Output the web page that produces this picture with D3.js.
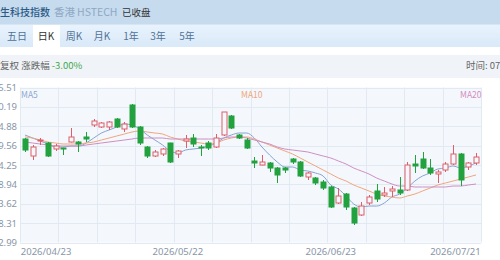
<!DOCTYPE html>
<html>
<head>
<meta charset="utf-8">
<script src="https://cdn.jsdelivr.net/npm/d3@7"></script>
<style>
  html, body { margin: 0; padding: 0; background: #fff; }
  svg { display: block; font-family: "Noto Sans CJK SC", "Noto Sans", sans-serif; }
</style>
</head>
<body>
<svg id="chart" width="500" height="260"></svg>
<script>
// trading days shown
const dates = [
  "2026/04/23","2026/04/24","2026/04/27","2026/04/28","2026/04/29","2026/04/30",
  "2026/05/04","2026/05/05","2026/05/06","2026/05/07","2026/05/08","2026/05/11",
  "2026/05/12","2026/05/13","2026/05/14","2026/05/15","2026/05/18","2026/05/19",
  "2026/05/20","2026/05/21","2026/05/22","2026/05/26","2026/05/27","2026/05/28",
  "2026/05/29","2026/06/01","2026/06/02","2026/06/03","2026/06/04","2026/06/05",
  "2026/06/08","2026/06/09","2026/06/10","2026/06/11","2026/06/12","2026/06/15",
  "2026/06/16","2026/06/17","2026/06/18","2026/06/22","2026/06/23","2026/06/24",
  "2026/06/25","2026/06/26","2026/06/29","2026/06/30","2026/07/02","2026/07/03",
  "2026/07/06","2026/07/07","2026/07/08","2026/07/09","2026/07/10","2026/07/13",
  "2026/07/14","2026/07/15","2026/07/16","2026/07/17","2026/07/20","2026/07/21"
];

const open = [
  5665.5,5573.1,5654.7,5643.8,5611.2,5616.6,5649.2,5649.2,5676.4,5741.6,
  5730.8,5730.8,5774.2,5719.9,5850.4,5730.8,5622.0,5573.1,5584.0,5643.8,
  5584.0,5654.7,5671.0,5622.0,5643.8,5622.0,5687.3,5790.6,5687.3,5660.1,
  5545.9,5524.2,5535.1,5507.9,5507.9,5556.8,5540.5,5459.0,5453.5,5431.8,
  5404.6,5317.7,5366.6,5290.5,5252.4,5317.7,5382.9,5361.1,5382.9,5388.3,
  5388.3,5529.6,5556.8,5507.9,5475.3,5497.0,5529.6,5584.0,5513.3,5535.1
];
const high = [
  5671.0,5632.9,5671.0,5649.2,5638.4,5618.0,5725.3,5654.7,5703.6,5774.2,
  5757.9,5763.4,5779.7,5757.9,5855.8,5736.2,5627.5,5605.7,5616.6,5645.0,
  5605.7,5687.3,5692.7,5632.9,5654.7,5692.7,5812.3,5796.0,5692.7,5671.0,
  5567.7,5578.6,5540.5,5513.3,5513.3,5562.3,5545.9,5486.2,5459.0,5442.7,
  5410.1,5399.2,5372.0,5295.9,5323.1,5361.1,5420.9,5404.6,5410.1,5459.0,
  5540.5,5578.6,5594.9,5556.8,5497.0,5540.5,5632.9,5589.4,5540.5,5589.4
];
const low = [
  5594.9,5551.4,5632.9,5567.7,5600.3,5578.6,5647.0,5594.9,5649.2,5730.8,
  5725.3,5714.5,5725.3,5703.6,5725.3,5632.9,5562.3,5567.7,5573.1,5535.1,
  5562.3,5616.6,5622.0,5573.1,5605.7,5616.6,5681.8,5719.9,5665.5,5611.2,
  5507.9,5522.0,5486.2,5426.4,5480.7,5529.6,5459.0,5442.7,5415.5,5388.3,
  5290.5,5312.2,5279.6,5198.1,5247.0,5306.8,5323.1,5350.3,5350.3,5361.1,
  5382.9,5480.7,5502.5,5469.9,5426.4,5486.2,5524.2,5410.1,5497.0,5524.2
];
const close = [
  5605.7,5622.0,5660.1,5573.1,5627.5,5611.2,5676.4,5638.4,5665.5,5763.4,
  5752.5,5757.9,5730.8,5747.1,5730.8,5643.8,5573.1,5594.9,5611.2,5540.5,
  5600.3,5665.5,5638.4,5616.6,5616.6,5671.0,5812.3,5725.3,5671.0,5616.6,
  5535.1,5540.5,5507.9,5469.9,5497.0,5540.5,5464.4,5480.7,5426.4,5399.2,
  5295.9,5355.7,5295.9,5208.9,5301.3,5350.3,5339.4,5372.0,5393.8,5372.0,
  5524.2,5518.8,5507.9,5480.7,5486.2,5529.6,5584.0,5442.7,5535.1,5567.7
];

const ma5 = [
  5687.3,5671.0,5654.7,5638.4,5622.0,5622.0,5627.5,5627.5,5643.8,5671.0,
  5698.1,5714.5,5730.8,5747.1,5741.6,5719.9,5687.3,5660.1,5632.9,5600.3,
  5589.4,5605.7,5611.2,5616.6,5627.5,5643.8,5671.0,5687.3,5698.1,5698.1,
  5671.0,5622.0,5578.6,5540.5,5513.3,5513.3,5497.0,5491.6,5480.7,5464.4,
  5415.5,5393.8,5355.7,5312.2,5295.9,5301.3,5301.3,5317.7,5350.3,5366.6,
  5399.2,5437.2,5464.4,5480.7,5502.5,5507.9,5518.8,5507.9,5518.8,5535.1
];
const ma10 = [
  5676.4,5671.0,5660.1,5649.2,5643.8,5638.4,5638.4,5638.4,5643.8,5649.2,
  5660.1,5671.0,5681.8,5692.7,5703.6,5709.0,5703.6,5698.1,5692.7,5676.4,
  5665.5,5654.7,5649.2,5643.8,5638.4,5643.8,5660.1,5671.0,5676.4,5676.4,
  5665.5,5649.2,5632.9,5616.6,5600.3,5584.0,5562.3,5540.5,5518.8,5497.0,
  5475.3,5453.5,5437.2,5415.5,5399.2,5382.9,5366.6,5355.7,5350.3,5344.8,
  5355.7,5366.6,5382.9,5399.2,5415.5,5426.4,5437.2,5448.1,5459.0,5469.9
];
const ma20 = [
  5649.2,5643.8,5638.4,5632.9,5627.5,5627.5,5627.5,5627.5,5632.9,5638.4,
  5643.8,5649.2,5654.7,5660.1,5665.5,5671.0,5671.0,5671.0,5671.0,5665.5,
  5665.5,5665.5,5665.5,5665.5,5665.5,5665.5,5671.0,5676.4,5676.4,5671.0,
  5660.1,5649.2,5638.4,5622.0,5611.2,5605.7,5600.3,5594.9,5584.0,5573.1,
  5562.3,5545.9,5529.6,5507.9,5491.6,5475.3,5453.5,5437.2,5420.9,5410.1,
  5410.1,5404.6,5404.6,5404.6,5404.6,5404.6,5410.1,5410.1,5415.5,5420.9
];

const yTicks = [5102.99,5208.31,5313.62,5418.94,5524.25,5629.56,5734.88,5840.19,5945.51];
const xTickIdx = [0, 20, 40, 59];
const tabs = ["五日","日K","周K","月K","1年","3年","5年"];
const tabX = [17, 46, 74, 102, 131, 158, 187];

const svg = d3.select("#chart");
const plotL = 20, plotR = 481, plotT = 87.5, plotB = 242.5;

// header band
svg.append("rect").attr("x", 0).attr("y", 0).attr("width", 500).attr("height", 24).attr("fill", "#c6dbee");
const grad = svg.append("defs").append("linearGradient").attr("id", "tabbg").attr("x1", 0).attr("y1", 0).attr("x2", 0).attr("y2", 1);
grad.append("stop").attr("offset", "0%").attr("stop-color", "#e9f3fd");
grad.append("stop").attr("offset", "100%").attr("stop-color", "#d9e9f8");
svg.append("rect").attr("x", 0).attr("y", 24).attr("width", 500).attr("height", 23).attr("fill", "url(#tabbg)");
svg.append("line").attr("x1", 0).attr("x2", 500).attr("y1", 24.5).attr("y2", 24.5).attr("stroke", "#d6e6f5");
svg.append("rect").attr("x", 33).attr("y", 25).attr("width", 27).attr("height", 22).attr("fill", "#fff");
svg.append("rect").attr("x", 0).attr("y", 55).attr("width", 500).attr("height", 23).attr("fill", "#f0f4f8");

svg.append("text").attr("x", -10).attr("y", 16).attr("font-size", 10).attr("font-weight", 500).attr("fill", "#2b5a86").text("恒生科技指数");
svg.append("text").attr("x", 54).attr("y", 16).attr("font-size", 10.5).attr("fill", "#8ea8c4").text("香港");
svg.append("text").attr("x", 77).attr("y", 16).attr("font-size", 10.5).attr("fill", "#8ea8c4").text("HSTECH");
svg.append("text").attr("x", 122).attr("y", 16).attr("font-size", 9.5).attr("fill", "#333").text("已收盘");

svg.selectAll(".tab").data(tabs).enter().append("text")
  .attr("class", "tab")
  .attr("x", (d, i) => tabX[i]).attr("y", 40)
  .attr("text-anchor", "middle").attr("font-size", 10)
  .attr("fill", (d, i) => i === 1 ? "#333" : "#4f7298")
  .text(d => d);

const info = svg.append("text").attr("x", 0).attr("y", 69).attr("font-size", 9.5).attr("fill", "#666");
info.append("tspan").text("复权 涨跌幅 ");
info.append("tspan").attr("fill", "#3fa84c").text("-3.00%");
svg.append("text").attr("x", 466).attr("y", 69).attr("font-size", 9.5).attr("fill", "#666").text("时间: 07/21 16:10");

// scales
const x = d3.scaleBand().domain(dates).range([plotL, plotR]).padding(0.3);
const y = d3.scaleLinear().domain([yTicks[0], yTicks[yTicks.length - 1]]).range([plotB, plotT]);
const gx = d3.scaleLinear().domain([0, 12]).range([plotL, plotR]);

// plot background + grid
svg.append("rect").attr("x", plotL).attr("y", plotT).attr("width", plotR - plotL).attr("height", plotB - plotT).attr("fill", "#f4f8fd");
svg.append("g").selectAll("line").data(yTicks).enter().append("line")
  .attr("x1", plotL).attr("x2", plotR)
  .attr("y1", d => Math.round(y(d)) + 0.5).attr("y2", d => Math.round(y(d)) + 0.5)
  .attr("stroke", "#e1e9f3");
svg.append("g").selectAll("line").data(d3.range(13)).enter().append("line")
  .attr("x1", d => Math.round(gx(d)) + 0.5).attr("x2", d => Math.round(gx(d)) + 0.5)
  .attr("y1", plotT).attr("y2", plotB)
  .attr("stroke", "#e1e9f3");

// axes
const yAxis = d3.axisLeft(y).tickValues(yTicks).tickFormat(d3.format(".2f")).tickSize(0).tickPadding(3);
const ya = svg.append("g").attr("transform", `translate(${plotL},0)`).call(yAxis);
ya.select(".domain").remove();
ya.selectAll("text").attr("font-size", 9.5).attr("fill", "#8796a8").attr("font-family", "'Noto Sans', sans-serif");

const xAxis = d3.axisBottom(x).tickValues(xTickIdx.map(i => dates[i])).tickSize(0).tickPadding(6);
const xa = svg.append("g").attr("transform", `translate(0,${plotB})`).call(xAxis);
xa.select(".domain").remove();
xa.selectAll("text").attr("font-size", 9.5).attr("fill", "#8796a8").attr("font-family", "'Noto Sans', sans-serif")
  .attr("text-anchor", (d, i) => i === 0 ? "start" : i === xTickIdx.length - 1 ? "end" : "middle")
  .attr("dx", (d, i) => i === 0 ? -x.bandwidth() / 2 - 1.5 : i === xTickIdx.length - 1 ? x.bandwidth() / 2 + 2 : 0);

// MA lines
const cx = d => x(d) + x.bandwidth() / 2;
const maSeries = [
  { name: "MA5", values: ma5, color: "#86a3d2" },
  { name: "MA10", values: ma10, color: "#f0a67c" },
  { name: "MA20", values: ma20, color: "#cf8ec2" }
];
const line = v => d3.line().x((d, i) => cx(dates[i])).y(d => y(d)).curve(d3.curveMonotoneX)(v);
svg.append("g").selectAll("path").data(maSeries).enter().append("path")
  .attr("d", d => line(d.values))
  .attr("fill", "none").attr("stroke", d => d.color).attr("stroke-width", 1);

// candles
const up = "#de5f68", down = "#22a13f";
const candles = svg.append("g").selectAll("g").data(dates).enter().append("g");
candles.append("line")
  .attr("x1", d => Math.round(cx(d)) + 0.5).attr("x2", d => Math.round(cx(d)) + 0.5)
  .attr("y1", (d, i) => y(high[i])).attr("y2", (d, i) => y(low[i]))
  .attr("stroke", (d, i) => close[i] >= open[i] ? up : down);
candles.append("rect")
  .attr("x", d => Math.round(cx(d)) - 2)
  .attr("y", (d, i) => y(Math.max(open[i], close[i])))
  .attr("width", 5)
  .attr("height", (d, i) => Math.max(1, Math.abs(y(open[i]) - y(close[i]))))
  .attr("fill", (d, i) => close[i] >= open[i] ? "#f4f8fd" : down)
  .attr("stroke", (d, i) => close[i] >= open[i] ? up : down)
  .attr("stroke-width", 1);

// MA labels
svg.append("text").attr("x", 21).attr("y", 98).attr("font-size", 8.5).attr("fill", "#8ea8d2").text("MA5");
svg.append("text").attr("x", 241).attr("y", 98).attr("font-size", 8.5).attr("fill", "#f0a67c").text("MA10");
svg.append("text").attr("x", 460).attr("y", 98).attr("font-size", 8.5).attr("fill", "#d48cc2").text("MA20");
</script>
</body>
</html>
